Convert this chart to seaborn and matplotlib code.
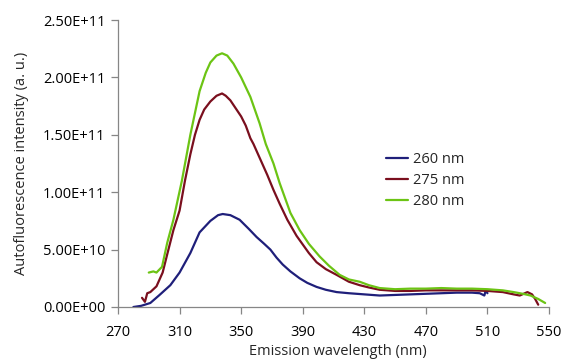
import numpy as np
import pandas as pd
import matplotlib
matplotlib.use("Agg")
import matplotlib.pyplot as plt
import seaborn as sns
from matplotlib.ticker import FuncFormatter

# Emission wavelength (nm) and intensity (units of 1e10 a.u.)
wl_260 = [280, 285, 291, 297, 304, 310, 317, 323, 330, 335, 338, 343, 349, 355, 360,
          365, 369, 373, 377, 382, 388, 393, 399, 405, 412, 420, 430, 440, 450, 460,
          470, 480, 490, 500, 505, 508, 509, 510]
int_260 = [0.0, 0.1, 0.35, 1.05, 1.9, 3.0, 4.7, 6.5, 7.5, 8.0, 8.1, 8.0, 7.6, 6.8, 6.1,
           5.5, 5.0, 4.3, 3.7, 3.1, 2.5, 2.1, 1.75, 1.5, 1.3, 1.2, 1.1, 1.0, 1.05, 1.1,
           1.15, 1.2, 1.25, 1.25, 1.2, 1.0, 1.5, 1.2]

wl_275 = [285.6, 287.5, 289, 291, 295, 299, 302, 306, 310, 313.5, 317, 320, 323, 326,
          330, 334, 337.6, 340, 343, 347, 350, 353, 356, 358, 362, 367, 371, 375, 380,
          386, 394, 399, 405, 412, 420, 427, 433, 440, 450, 460, 470, 480, 490, 500,
          510, 520, 527, 531, 536, 539, 541, 543]
int_275 = [0.8, 0.45, 1.2, 1.3, 1.8, 3.0, 4.6, 6.7, 8.4, 11.0, 13.3, 15.0, 16.3, 17.2,
           17.9, 18.4, 18.6, 18.4, 18.0, 17.2, 16.6, 15.8, 14.7, 14.2, 13.0, 11.5, 10.2,
           9.0, 7.6, 6.2, 4.7, 3.9, 3.3, 2.8, 2.2, 1.9, 1.7, 1.5, 1.4, 1.4, 1.45, 1.45,
           1.45, 1.45, 1.4, 1.3, 1.1, 1.0, 1.3, 1.1, 0.7, 0.2]

wl_280 = [290, 293, 295, 298.6, 302, 306, 311.5, 317, 323, 327, 330, 334, 337.6, 341,
          345, 350, 356, 362, 366, 371, 375, 382, 388, 394, 401, 407, 414, 420, 427,
          433, 440, 450, 460, 470, 480, 490, 500, 510, 520, 527, 533, 538, 543, 547.5]
int_280 = [3.0, 3.1, 3.0, 3.5, 5.6, 7.6, 11.0, 15.0, 18.8, 20.4, 21.3, 21.9, 22.1, 21.9,
           21.2, 20.0, 18.3, 16.0, 14.2, 12.5, 10.8, 8.2, 6.7, 5.5, 4.4, 3.6, 2.8, 2.4,
           2.2, 1.9, 1.65, 1.55, 1.6, 1.6, 1.65, 1.6, 1.6, 1.55, 1.45, 1.3, 1.15, 1.0,
           0.7, 0.35]

series_names = ["260 nm", "275 nm", "280 nm"]
colors = ["#1f1f7a", "#7a0f1e", "#6cc414"]

x_ticks = [270, 310, 350, 390, 430, 470, 510, 550]
y_ticks = [0, 5e10, 1e11, 1.5e11, 2e11, 2.5e11]

frames = []
for name, wl, iv in zip(series_names, [wl_260, wl_275, wl_280], [int_260, int_275, int_280]):
    frames.append(pd.DataFrame({"wl": wl, "val": np.array(iv) * 1e10, "series": name}))
df = pd.concat(frames, ignore_index=True)

sns.set_style("ticks")
plt.rcParams['font.family'] = ['Open Sans', 'DejaVu Sans']

fig = plt.figure(figsize=(5.64, 3.63), dpi=100)
ax = fig.add_axes([118/564, 1 - 307/363, (549-118)/564, (307-20)/363])

sns.lineplot(data=df, x="wl", y="val", hue="series", palette=colors,
             hue_order=series_names, linewidth=1.6, ax=ax, sort=False,
             estimator=None)

ax.set_xlim(270, 550)
ax.set_ylim(0, 2.5e11)
ax.set_xticks(x_ticks)
ax.set_yticks(y_ticks)

def fmt(v, p):
    if v == 0:
        return "0.00E+00"
    return f"{v:.2E}"

ax.yaxis.set_major_formatter(FuncFormatter(fmt))

for s in ["top", "right"]:
    ax.spines[s].set_visible(False)
for s in ["left", "bottom"]:
    ax.spines[s].set_color("#868686")
    ax.spines[s].set_linewidth(0.9)
fs = 10.5
ax.tick_params(axis="both", colors="#868686", length=5, width=0.9, labelsize=fs,
               labelcolor="black")
ax.tick_params(axis="x", pad=8)
ax.tick_params(axis="y", pad=4)

ax.set_xlabel("Emission wavelength (nm)", fontsize=fs, labelpad=3)
ax.set_ylabel("Autofluorescence intensity (a. u.)", fontsize=fs, labelpad=10)
ax.xaxis.label.set_x(0.51)

leg = ax.legend(loc="upper left", bbox_to_anchor=(0.592, 0.585), frameon=False,
                fontsize=fs, handlelength=1.5, handletextpad=0.3, labelspacing=0.42)

fig.savefig("out.png", dpi=100)
